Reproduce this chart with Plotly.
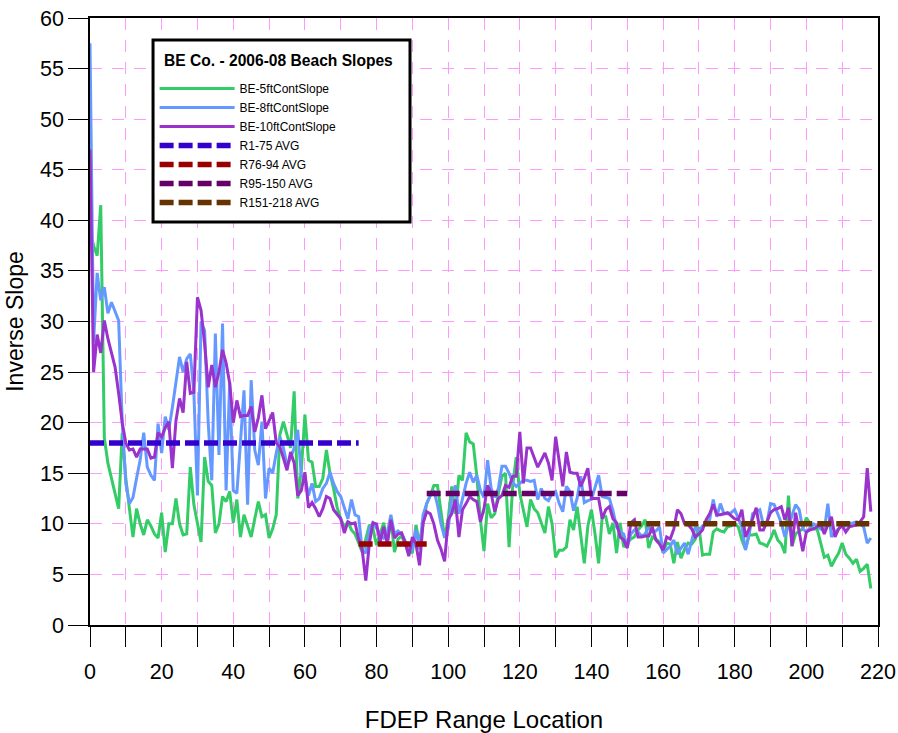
import plotly.graph_objects as go

# FDEP range locations (one profile per range monument)
ranges = list(range(0, 219))

# Inverse beach slope measured at the 5 ft contour
slope_5ft = [
    39.0, 37.5, 36.5, 41.5, 18.5, 16.0, 14.5, 13.0, 11.5, 19.0,
    14.5, 11.5, 8.7, 11.5, 10.0, 8.9, 10.4, 9.8, 9.0, 8.6,
    11.1, 7.2, 10.0, 10.0, 12.5, 10.0, 8.9, 9.0, 15.6, 11.9,
    10.0, 8.2, 16.6, 14.2, 13.8, 9.1, 10.0, 12.7, 12.2, 13.2,
    10.1, 12.4, 8.7, 10.9, 9.8, 8.7, 10.5, 12.2, 10.7, 10.9,
    8.6, 9.5, 10.9, 18.8, 20.1, 18.8, 17.5, 23.1, 12.5, 15.3,
    20.8, 16.3, 16.1, 13.7, 13.7, 14.5, 17.3, 15.0, 13.5, 11.6,
    10.5, 9.7, 10.2, 9.4, 9.0, 8.1, 7.2, 8.5, 9.9, 9.5,
    7.9, 9.0, 10.1, 8.2, 10.6, 7.2, 8.5, 8.8, 8.0, 7.4,
    7.1, 9.9, 8.0, 10.0, 12.0, 12.8, 13.8, 13.8, 11.4, 8.6,
    10.5, 13.7, 11.0, 14.8, 14.3, 19.0, 18.1, 17.9, 14.7, 10.4,
    7.3, 12.0, 10.6, 11.0, 13.0, 14.7, 15.0, 7.7, 13.7, 16.6,
    13.0, 11.4, 9.7, 12.4, 11.5, 11.1, 10.0, 9.1, 11.7, 10.0,
    6.7, 7.4, 7.4, 7.7, 10.4, 9.4, 11.7, 9.0, 6.1, 9.8,
    11.4, 9.0, 6.1, 10.7, 10.7, 9.0, 10.1, 7.1, 10.1, 7.7,
    8.1, 8.5, 8.7, 9.4, 9.8, 10.4, 7.6, 8.7, 8.5, 8.2,
    7.2, 8.1, 8.0, 6.1, 8.2, 6.6, 7.5, 8.1, 8.0, 8.5,
    9.7, 6.9, 7.0, 7.0, 9.2, 9.5, 9.3, 9.2, 9.7, 9.8,
    10.0, 9.7, 8.4, 7.5, 8.9, 8.9, 9.0, 8.1, 8.0, 7.8,
    8.5, 9.4, 8.4, 8.0, 7.1, 12.8, 7.8, 9.0, 9.3, 9.5,
    10.6, 10.0, 9.5, 9.5, 8.0, 6.7, 6.9, 5.8, 6.5, 7.1,
    8.1, 7.0, 6.6, 6.1, 6.5, 5.3, 5.6, 6.0, 3.6,
]

# Inverse beach slope measured at the 8 ft contour
slope_8ft = [
    57.5, 28.0, 34.8, 32.1, 33.4, 30.8, 31.9, 31.0, 30.1, 20.0,
    14.0, 12.0, 12.6, 14.5, 16.3, 19.0, 15.6, 14.8, 14.3, 19.9,
    17.0, 20.6, 19.3, 21.5, 24.0, 26.5, 25.0, 26.3, 26.8, 23.0,
    12.8, 30.0, 29.1, 20.0, 14.3, 28.8, 16.8, 29.8, 13.3, 24.0,
    13.3, 13.0, 18.0, 23.2, 11.9, 24.2, 17.3, 15.8, 20.1, 12.5,
    15.5, 15.0, 17.0, 18.6, 17.5, 15.8, 16.5, 17.5, 19.3, 14.7,
    14.7, 12.8, 14.0, 12.2, 12.5, 13.5, 14.0, 15.1, 14.0, 13.2,
    12.7, 11.5, 10.5, 12.4, 10.9, 10.7, 7.4, 7.1, 9.5, 10.1,
    9.5, 9.0, 8.6, 9.1, 10.9, 9.0, 9.3, 9.0, 8.3, 7.7,
    7.5, 9.4, 7.5, 10.9, 12.0, 12.8, 13.3, 11.9, 10.0, 8.7,
    9.5, 12.6, 13.8, 11.0, 12.5, 14.0, 15.1, 14.1, 14.8, 13.3,
    12.6, 16.3, 13.5, 12.6, 13.5, 15.7, 15.7, 15.0, 14.1, 13.7,
    14.0, 14.3, 14.3, 14.2, 14.3, 12.4, 13.5, 12.5, 12.3, 13.0,
    13.2, 12.0, 11.2, 13.7, 13.2, 11.3, 12.5, 14.7, 12.1, 12.3,
    12.4, 13.5, 14.8, 12.7, 12.6, 12.5, 11.3, 9.7, 9.2, 9.0,
    7.7, 9.0, 9.4, 9.2, 8.8, 9.0, 9.7, 9.2, 9.3, 9.7,
    7.1, 7.5, 7.8, 8.4, 7.0, 7.6, 8.1, 7.0, 8.5, 9.7,
    9.2, 9.8, 10.0, 10.4, 12.4, 10.7, 12.0, 11.0, 11.0, 11.1,
    11.4, 10.5, 9.7, 7.4, 8.9, 11.0, 11.2, 11.4, 9.9, 10.1,
    12.0, 11.9, 11.0, 10.1, 8.7, 9.7, 10.8, 11.9, 11.4, 9.5,
    9.2, 9.6, 10.0, 9.8, 9.5, 9.3, 12.0, 8.7, 9.2, 9.5,
    10.1, 9.8, 10.0, 10.1, 10.2, 10.0, 9.7, 8.1, 8.6,
]

# Inverse beach slope measured at the 10 ft contour
slope_10ft = [
    47.0, 25.0, 28.7, 26.9, 30.1, 28.3, 26.9, 25.5, 22.9, 20.0,
    18.0, 17.3, 17.4, 16.6, 17.4, 17.4, 17.4, 16.5, 16.6, 19.0,
    18.6, 19.5, 20.1, 15.5, 20.2, 22.4, 21.0, 26.0, 22.9, 23.0,
    32.4, 31.1, 27.8, 23.5, 25.7, 23.5, 25.0, 27.2, 25.9, 23.9,
    20.0, 22.2, 20.6, 20.7, 20.7, 21.6, 19.1, 20.5, 22.7, 19.4,
    20.2, 21.0, 18.0, 17.6, 16.5, 15.3, 17.1, 16.0, 12.8, 13.3,
    15.1, 11.6, 12.1, 11.5, 10.7, 11.5, 12.7, 12.5, 11.4, 10.9,
    10.5, 9.1, 10.2, 10.0, 10.1, 8.5, 7.4, 4.4, 8.1, 10.1,
    10.0, 8.2, 9.7, 8.0, 10.4, 8.6, 9.0, 9.1, 8.1, 6.8,
    8.7, 8.0, 5.9, 10.1, 11.2, 11.0, 10.0, 8.4, 7.5, 6.3,
    10.4, 11.0, 12.4, 8.7, 11.4, 12.0, 12.7, 12.4, 12.2, 10.2,
    11.5, 13.8, 13.0, 11.2, 12.5, 12.8, 13.8, 13.6, 14.7, 14.7,
    19.1, 14.0, 17.5, 17.5, 16.5, 15.6, 16.3, 17.0, 16.0, 14.3,
    18.6, 16.0, 13.7, 17.1, 15.1, 15.0, 15.0, 13.7, 14.5, 15.5,
    12.5, 12.5, 12.5, 10.5, 11.4, 11.7, 10.5, 10.1, 8.7, 8.4,
    7.6, 10.1, 10.4, 8.7, 8.7, 8.8, 8.8, 9.7, 8.4, 8.0,
    7.4, 8.7, 8.5, 9.5, 11.4, 11.0, 10.0, 9.9, 9.5, 8.7,
    9.0, 9.4, 10.4, 11.0, 11.9, 10.9, 10.9, 11.0, 11.1, 10.8,
    10.5, 10.4, 11.4, 8.7, 9.5, 10.5, 11.6, 9.4, 9.4, 10.2,
    11.1, 11.4, 11.5, 11.7, 10.4, 11.6, 7.8, 11.1, 9.0, 7.3,
    9.2, 9.4, 9.5, 9.7, 10.0, 9.0, 9.9, 10.7, 8.7, 9.5,
    9.8, 9.2, 9.7, 9.8, 9.9, 10.2, 10.7, 15.5, 11.2,
]

# Reach averages: (label, start, end, average inverse slope)
avg_labels = ["R1-75 AVG", "R76-94 AVG", "R95-150 AVG", "R151-218 AVG"]
avg_starts = [0, 75, 94, 150]
avg_ends = [75, 94, 150, 218]
avg_values = [18.0, 8.0, 13.0, 10.0]

series_names = ["BE-5ftContSlope", "BE-8ftContSlope", "BE-10ftContSlope"]
series_colors = ["#33cc66", "#6699ff", "#9933cc"]
avg_colors = ["#3300cc", "#990000", "#660066", "#663300"]

legend_title = "<b>BE Co. - 2006-08 Beach Slopes</b>"

fig = go.Figure()

for name, values, color in zip(series_names, [slope_5ft, slope_8ft, slope_10ft], series_colors):
    fig.add_trace(go.Scatter(
        x=ranges, y=values, mode="lines", name=name, legendgroup=name,
        line=dict(color=color, width=3),
    ))

for label, x0, x1, val, color in zip(avg_labels, avg_starts, avg_ends, avg_values, avg_colors):
    fig.add_trace(go.Scatter(
        x=[x0, x1], y=[val, val], mode="lines", name=label, legendgroup=label,
        line=dict(color=color, width=5.5, dash="14px,5px"),
    ))

base_font = "Liberation Sans, Arial, sans-serif"
tick_font = dict(family=base_font, size=21.5, color="black")
grid_color = "#ff99ff"

# Framed legend box with its heading
fig.add_shape(
    type="rect", xref="paper", yref="paper",
    x0=0.0800, x1=0.4061, y0=0.6639, y1=0.9638,
    line=dict(color="black", width=3), fillcolor="white", layer="above",
)
fig.add_annotation(
    text=legend_title, xref="paper", yref="paper",
    x=0.0914, y=0.9308, xanchor="left", yanchor="middle",
    showarrow=False, font=dict(family=base_font, size=15.6, color="black"),
)

fig.update_layout(
    width=898, height=733,
    margin=dict(l=90, r=20, t=18, b=108),
    paper_bgcolor="white", plot_bgcolor="white",
    font=dict(family=base_font, color="black"),
    showlegend=True,
    legend=dict(
        x=0.082, y=0.9078, xanchor="left", yanchor="top",
        bgcolor="rgba(0,0,0,0)", borderwidth=0,
        font=dict(size=12, color="black"),
        itemwidth=75, tracegroupgap=1.6, traceorder="normal",
    ),
)

fig.update_xaxes(
    range=[0, 220], dtick=20, tick0=0, automargin=False,
    ticks="outside", ticklen=20, tickwidth=1, tickcolor="black",
    tickfont=tick_font, ticklabelstandoff=6,
    showline=True, linecolor="black", linewidth=1.5, mirror=True,
    showgrid=True, gridcolor=grid_color, gridwidth=1, griddash="12px,10px",
    minor=dict(dtick=10, ticks="outside", ticklen=20, tickcolor="black",
               showgrid=True, gridcolor=grid_color, griddash="12px,10px"),
    zeroline=False,
    title=dict(text="FDEP Range Location", font=dict(size=24, color="black"), standoff=36),
)

fig.update_yaxes(
    range=[0, 60], dtick=5, tick0=0, automargin=False,
    ticks="outside", ticklen=20, tickwidth=1, tickcolor="black",
    tickfont=tick_font,
    showline=True, linecolor="black", linewidth=1.5, mirror=True,
    showgrid=True, gridcolor=grid_color, gridwidth=1, griddash="12px,10px",
    zeroline=False,
    title=dict(text="Inverse Slope", font=dict(size=23, color="black"), standoff=10),
)

fig.write_html("out.html")
